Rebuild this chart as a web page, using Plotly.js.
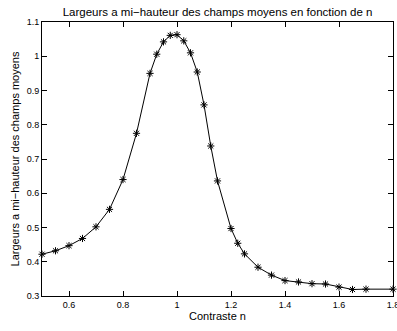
<!DOCTYPE html>
<html>
<head>
<meta charset="utf-8">
<script src="https://cdn.plot.ly/plotly-3.0.1.min.js"></script>
<style>html,body{margin:0;padding:0;background:#fff;}#chart{width:397px;height:331px;}</style>
</head>
<body>
<div id="chart"></div>
<script>
const contraste = [0.5, 0.55, 0.6, 0.65, 0.7, 0.75, 0.8, 0.85, 0.9, 0.925, 0.95, 0.975, 1.0, 1.025, 1.05, 1.075, 1.1, 1.125, 1.15, 1.2, 1.225, 1.25, 1.3, 1.35, 1.4, 1.45, 1.5, 1.55, 1.6, 1.65, 1.7, 1.8];
const largeurs = [0.422, 0.432, 0.447, 0.468, 0.502, 0.553, 0.640, 0.775, 0.950, 1.006, 1.042, 1.061, 1.063, 1.045, 1.010, 0.954, 0.858, 0.738, 0.636, 0.497, 0.454, 0.423, 0.384, 0.361, 0.345, 0.341, 0.336, 0.335, 0.326, 0.319, 0.320, 0.320];
const xTickVals = [0.6, 0.8, 1.0, 1.2, 1.4, 1.6, 1.8];
const xTickText = ["0.6", "0.8", "1", "1.2", "1.4", "1.6", "1.8"];
const yTickVals = [0.3, 0.4, 0.5, 0.6, 0.7, 0.8, 0.9, 1.0, 1.1];
const yTickText = ["0.3", "0.4", "0.5", "0.6", "0.7", "0.8", "0.9", "1", "1.1"];

const font = "Liberation Sans, Arial, Helvetica, sans-serif";
const trace = {
  x: contraste, y: largeurs, type: "scatter", mode: "lines+markers",
  line: {color: "#000", width: 1},
  marker: {symbol: "asterisk-open", size: 6, color: "#000", line: {color: "#000", width: 1}},
  cliponaxis: false,
  showlegend: false
};
const axisCommon = {
  showline: true, linecolor: "#000", linewidth: 1, mirror: "ticks",
  ticks: "inside", ticklen: 5, tickcolor: "#000", tickwidth: 1,
  showgrid: false, zeroline: false, ticklabeloverflow: "allow",
  tickfont: {family: font, size: 9, color: "#000"}
};
const layout = {
  width: 397, height: 331,
  margin: {l: 42, r: 4, t: 22, b: 35},
  paper_bgcolor: "#fff", plot_bgcolor: "#fff",
  title: {text: "Largeurs a mi\u2212hauteur des champs moyens en fonction de n",
          font: {family: font, size: 11.5, color: "#000"}, x: 0.548, xanchor: "center", y: 0.965, yanchor: "middle"},
  xaxis: Object.assign({}, axisCommon, {
    range: [0.5, 1.800001], tickmode: "array", tickvals: xTickVals, ticktext: xTickText,
    title: {text: "Contraste n", font: {family: font, size: 11, color: "#000"}, standoff: 2}
  }),
  yaxis: Object.assign({}, axisCommon, {
    range: [0.3, 1.100001], tickmode: "array", tickvals: yTickVals, ticktext: yTickText,
    title: {text: "Largeurs a mi\u2212hauteur des champs moyens", font: {family: font, size: 11, color: "#000"}, standoff: 4}
  })
};
Plotly.newPlot("chart", [trace], layout, {staticPlot: true, displayModeBar: false});
</script>
</body>
</html>
